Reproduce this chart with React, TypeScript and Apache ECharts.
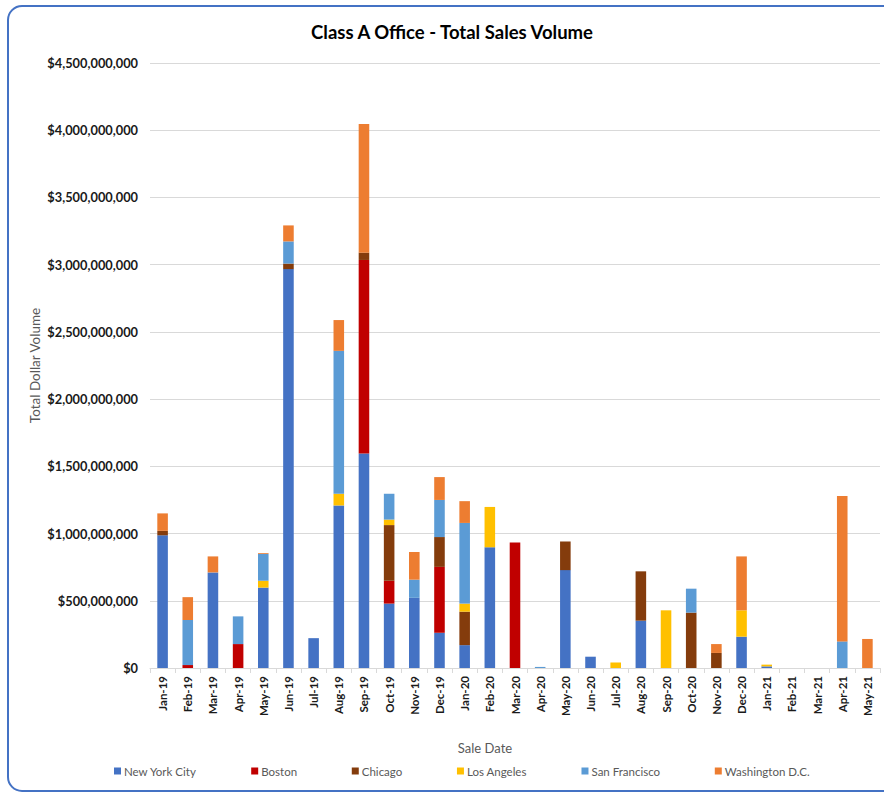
import React, { useEffect, useRef } from "react";
import * as echarts from "echarts";

const categories = [
  "Jan-19", "Feb-19", "Mar-19", "Apr-19", "May-19", "Jun-19", "Jul-19", "Aug-19", "Sep-19", "Oct-19", "Nov-19", "Dec-19",
  "Jan-20", "Feb-20", "Mar-20", "Apr-20", "May-20", "Jun-20", "Jul-20", "Aug-20", "Sep-20", "Oct-20", "Nov-20", "Dec-20",
  "Jan-21", "Feb-21", "Mar-21", "Apr-21", "May-21",
];

// values in millions of dollars
const newYorkCity = [987, 0, 711, 0, 598, 2967, 222, 1209, 1596, 479, 522, 262, 170, 898, 0, 0, 728, 84, 0, 352, 0, 0, 0, 233, 12, 0, 0, 0, 0];
const boston = [0, 22, 0, 178, 0, 0, 0, 0, 1439, 170, 0, 490, 0, 0, 933, 0, 0, 0, 0, 0, 0, 0, 0, 0, 0, 0, 0, 0, 0];
const chicago = [33, 0, 0, 0, 0, 41, 0, 0, 54, 414, 0, 222, 249, 0, 0, 0, 213, 0, 0, 367, 0, 412, 112, 0, 0, 0, 0, 0, 0];
const losAngeles = [0, 0, 0, 0, 51, 0, 0, 87, 0, 41, 0, 0, 60, 300, 0, 0, 0, 0, 41, 0, 429, 0, 0, 196, 13, 0, 0, 0, 0];
const sanFrancisco = [0, 335, 0, 206, 200, 165, 0, 1063, 0, 192, 135, 276, 600, 0, 0, 8, 0, 0, 0, 0, 0, 178, 0, 0, 0, 0, 0, 198, 0];
const washingtonDC = [130, 170, 119, 0, 6, 119, 0, 229, 957, 0, 206, 170, 162, 0, 0, 0, 0, 0, 0, 0, 0, 0, 66, 401, 0, 0, 0, 1081, 216];

const seriesNames = ["New York City", "Boston", "Chicago", "Los Angeles", "San Francisco", "Washington D.C."];
const seriesData = [newYorkCity, boston, chicago, losAngeles, sanFrancisco, washingtonDC];
const colors = ["#4472C4", "#C00000", "#843C0C", "#FFC000", "#5B9BD5", "#ED7D31"];

const FONT = "Lato, 'Open Sans', sans-serif";

export default function App() {
  const ref = useRef<HTMLDivElement>(null);
  useEffect(() => {
    if (!ref.current) return;
    const chart = echarts.init(ref.current, undefined, { renderer: "svg" });
    chart.setOption({
      animation: false,
      backgroundColor: "#ffffff",
      textStyle: { fontFamily: FONT },
      graphic: [
        {
          type: "rect",
          shape: { x: 8, y: 6, width: 900, height: 785, r: 14 },
          style: { fill: "none", stroke: "#4472C4", lineWidth: 2 },
          silent: true,
        },
        {
          type: "text",
          x: 452,
          y: 32,
          style: {
            text: "Class A Office - Total Sales Volume",
            font: `bold 18.5px ${FONT}`,
            fill: "#000000",
            align: "center",
            verticalAlign: "middle",
          },
        },
        {
          type: "text",
          x: 485,
          y: 748,
          style: {
            text: "Sale Date",
            font: `13px ${FONT}`,
            fill: "#595959",
            align: "center",
            verticalAlign: "middle",
          },
        },
      ],
      legend: {
        left: 109,
        top: 760,
        itemWidth: 7,
        itemHeight: 7,
        itemGap: 54.7,
        icon: "rect",
        data: seriesNames,
        textStyle: { fontSize: 11.5, color: "#595959", fontFamily: FONT, padding: [0, 0, 0, -2] },
      },
      grid: { left: 150, right: 4, top: 63, bottom: 125, containLabel: false },
      xAxis: {
        type: "category",
        data: categories,
        axisLine: { lineStyle: { color: "#D9D9D9" } },
        axisTick: { show: true, length: 5, lineStyle: { color: "#D9D9D9" } },
        axisLabel: {
          rotate: 90,
          interval: 0,
          fontSize: 11.5,
          fontWeight: "bold",
          color: "#1a1a1a",
          margin: 8,
          fontFamily: FONT,
        },
      },
      yAxis: {
        type: "value",
        min: 0,
        max: 4500,
        interval: 500,
        name: "Total Dollar Volume",
        nameLocation: "middle",
        nameGap: 108,
        nameMoveOverlap: false,
        nameTextStyle: { fontSize: 13.5, color: "#595959", fontFamily: FONT },
        axisLine: { show: false },
        axisTick: { show: false },
        splitLine: { lineStyle: { color: "#D9D9D9" } },
        axisLabel: {
          fontSize: 12.8,
          fontWeight: "bold",
          color: "#1a1a1a",
          margin: 12,
          fontFamily: FONT,
          formatter: (v: number) => "$" + (v * 1e6).toLocaleString("en-US"),
        },
      },
      series: seriesNames.map((name, i) => ({
        name,
        type: "bar",
        stack: "total",
        barWidth: "42%",
        data: seriesData[i],
        itemStyle: { color: colors[i] },
      })),
    });
    return () => chart.dispose();
  }, []);
  return <div ref={ref} style={{ position: "absolute", left: 0, top: 0, width: 884, height: 793 }} />;
}
